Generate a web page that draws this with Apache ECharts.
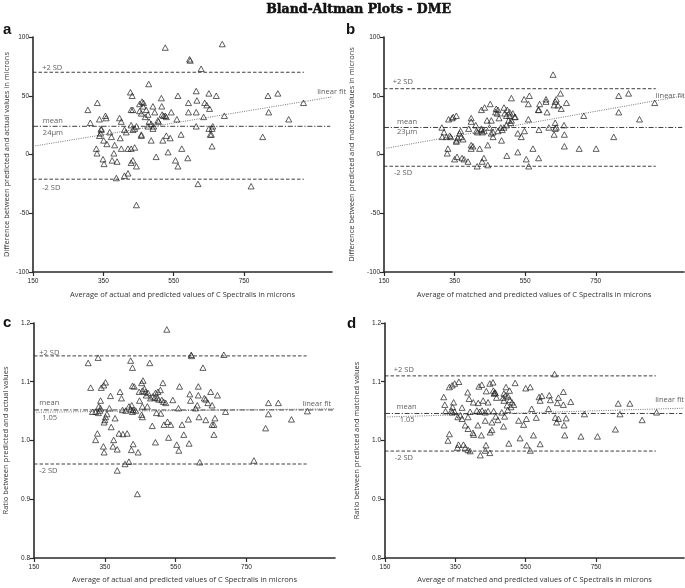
<!DOCTYPE html>
<html><head><meta charset="utf-8">
<script src="https://cdn.jsdelivr.net/npm/echarts@6/dist/echarts.min.js"></script>
<style>html,body{margin:0;padding:0;background:#fff}#c{width:685px;height:588px}</style>
</head><body><div id="c"></div>
<script>
const xTicks = [150, 350, 550, 750, 950];
const titleText = 'Bland-Altman Plots - DME';
const panelLetters = ['a', 'b', 'c', 'd'];
const xNames = [
  'Average of actual and predicted values of C Spectralis in microns',
  'Average of matched and predicted values of C Spectralis in microns',
  'Average of actual and predicted values of C Spectralis in microns',
  'Average of matched and predicted values of C Spectralis in microns'
];
const yNames = [
  'Difference between predicted and actual values in microns',
  'Difference between predicted and matched values in microns',
  'Ratio between predicted and actual values',
  'Ratio between predicted and matched values'
];

// panel a: difference (predicted - actual)
const pointsA = [
[306,38],[313,27],[333,44],[339,30],[344,21],[342,18],[339,16],[344,22],[356,33],[358,31],[351,12],[330,5],[332,1],[368,19],[373,15],[360,9],[382,8],[380,1],
[396,31],[401,28],[398,14],[401,5],[420,5],[429,5],[439,6],[410,21],[415,19],[427,53],[432,50],[429,38],[434,38],[429,25],[434,21],[439,22],[444,24],[453,37],[458,35],[463,41],[460,45],[464,44],[453,43],[472,38],[477,34],[469,32],[458,17],[458,16],[477,24],[479,60],[480,28],[486,26],[491,22],[486,12],
[491,41],[496,36],[505,29],[507,28],[493,24],[515,48],[516,41],[517,34],[521,33],[526,33],[529,32],[526,91],[519,12],[529,16],[540,14],[562,50],[559,30],[571,17],[573,5],[543,36],
[592,36],[592,44],[595,81],[597,80],[614,54],[616,46],[614,36],[635,32],[628,73],[638,44],[644,42],[650,52],[650,22],[652,39],[654,17],[659,22],[657,17],[659,7],[671,50],[694,33],[688,94],[661,24],[614,24],
[803,15],[818,50],[820,36],[846,52],[877,30],[919,44],
[349,-4],[352,-8],[375,-5],[389,-6],[434,-5],[429,-7],[444,-10],[500,-2],[534,2],[555,-5],[562,-10],[590,-3],[387,-20],[410,-18],[420,-16],[619,-25],[770,-27],[444,-43]
];
const sdA = [70, 24, -21];      // +2SD, mean, -2SD
const fitA = [7, 49];           // fit at x=150 and x=1000

// panel b: difference (predicted - matched)
const pointsB = [
[629,68],[650,52],[815,50],[843,52],[562,50],[511,48],[547,47],[559,43],[591,43],[609,47],[638,47],[635,45],[609,45],[667,44],[632,42],[643,42],[652,39],[589,38],[587,38],[612,36],
[451,43],[435,40],[426,38],[468,39],[473,38],[466,36],[471,35],[490,40],[499,38],[506,36],[506,33],[492,35],[497,33],[515,35],[520,32],[522,32],[511,29],[509,27],[503,29],[497,25],[490,23],[481,23],[485,21],[473,20],[476,31],[559,30],
[397,31],[397,28],[410,25],[426,22],[426,21],[429,19],[434,20],[412,20],[415,19],[449,23],[454,29],[442,29],[454,18],[459,15],[459,19],[483,12],[529,18],[539,15],[548,20],[589,21],[617,23],[635,27],[638,23],[635,22],[660,25],[661,17],[632,17],[661,7],[716,33],[703,5],[751,5],[801,15],[815,36],[874,30],[917,44],[572,5],[529,2],[444,8],[397,8],[397,5],[402,7],[421,5],[374,13],[355,11],
[314,23],[320,19],[315,15],[327,15],[336,16],[339,15],[333,30],[343,31],[355,33],[346,32],[364,18],[367,20],[359,14],[355,12],[369,15],[331,5],[329,1],[390,22],
[350,-4],[357,-2],[371,-3],[377,-4],[388,-6],[414,-10],[428,-6],[433,-3],[444,-9],[498,-1],[553,-4],[560,-10],[588,-3]
];
const sdB = [56, 23, -10];
const fitB = [5, 50];

// panel c: ratio (predicted / actual)
const pointsC = [
[525,1.189],[686,1.146],[594,1.146],[595,1.144],[331,1.141],[303,1.132],[423,1.136],[477,1.132],[428,1.124],[627,1.124],
[310,1.090],[340,1.090],[347,1.094],[352,1.099],[428,1.093],[433,1.092],[458,1.102],[454,1.098],[514,1.098],[561,1.092],[614,1.092],
[366,1.076],[338,1.068],[393,1.083],[397,1.072],[447,1.083],[456,1.085],[462,1.088],[465,1.083],[467,1.077],[472,1.081],[493,1.081],[500,1.083],[507,1.086],[479,1.072],[485,1.075],[491,1.073],[498,1.072],[502,1.070],[511,1.069],[516,1.066],[522,1.064],[542,1.069],[590,1.079],[592,1.068],[614,1.077],[631,1.072],[635,1.070],[649,1.083],[668,1.077],[641,1.064],[653,1.060],[611,1.060],[606,1.055],[558,1.055],[691,1.049],
[448,1.068],[456,1.058],[470,1.058],[426,1.060],[418,1.058],[423,1.053],[400,1.052],[409,1.051],[430,1.052],[437,1.051],[333,1.058],[338,1.055],[336,1.051],[332,1.047],[324,1.049],[315,1.049],[363,1.055],[356,1.045],[352,1.040],[379,1.038],[350,1.035],[348,1.031],[368,1.023],[329,1.012],[324,1.001],[390,1.012],[401,1.011],[413,1.012],[375,1.001],[428,1.049],[454,1.044],[456,1.040],[484,1.025],[496,1.047],[508,1.046],[517,1.027],[527,1.032],[536,1.027],[530,1.005],[493,0.997],[568,1.027],[573,1.010],[586,1.036],[616,1.040],[635,1.035],[661,1.038],[658,1.027],[653,1.027],[658,1.010],
[812,1.064],[840,1.064],[812,1.045],[877,1.036],[804,1.021],[922,1.050],
[346,0.990],[348,0.980],[373,0.990],[385,0.985],[430,0.994],[425,0.984],[444,0.980],[553,0.993],[559,0.983],[588,0.995],[407,0.960],[418,0.964],[385,0.949],[618,0.963],[771,0.966],[442,0.909]
];
const sdC = [1.144, 1.052, 0.960];
const fitC = [1.048, 1.054];

// panel d: ratio (predicted / matched)
const pointsD = [
[632,1.113],[813,1.063],[846,1.063],[818,1.045],[881,1.035],[922,1.048],[805,1.019],[717,1.045],[707,1.007],[754,1.007],
[657,1.083],[520,1.098],[550,1.089],[563,1.091],[596,1.076],[617,1.077],[588,1.074],[591,1.068],[620,1.069],[643,1.073],[657,1.061],[678,1.066],[640,1.064],[615,1.054],[567,1.054],[634,1.039],[643,1.037],[665,1.038],[638,1.031],[659,1.026],[661,1.009],
[580,1.039],[552,1.037],[530,1.034],[544,1.027],[572,1.009],[534,1.004],
[457,1.099],[448,1.097],[425,1.095],[417,1.092],[438,1.084],[458,1.085],[462,1.082],[460,1.080],[464,1.081],[494,1.091],[504,1.085],[488,1.080],[493,1.077],[500,1.075],[486,1.073],[488,1.068],[505,1.069],[511,1.065],[516,1.061],[497,1.060],[467,1.073],[443,1.065],[429,1.068],[415,1.064],[401,1.065],[389,1.071],[385,1.082],
[369,1.056],[345,1.065],[342,1.057],[339,1.051],[341,1.048],[348,1.049],[322,1.050],[320,1.061],[317,1.074],[333,1.091],[341,1.094],[360,1.100],[348,1.097],
[364,1.043],[357,1.040],[369,1.037],[386,1.040],[392,1.049],[411,1.051],[419,1.049],[426,1.051],[435,1.048],[443,1.050],[459,1.050],[465,1.041],[471,1.035],[482,1.048],[490,1.041],[499,1.052],[508,1.057],
[454,1.031],[487,1.024],[435,1.034],[414,1.026],[378,1.026],[386,1.020],[400,1.013],[402,1.010],[424,1.009],[449,1.014],[454,1.018],[333,1.011],[329,1.000],
[359,0.993],[373,0.993],[356,0.988],[378,0.988],[386,0.984],[392,0.982],[421,0.975],[435,0.983],[437,0.992],[448,0.979],[502,0.995],[553,0.992],[563,0.983],[591,0.994]
];
const sdD = [1.110, 1.046, 0.982];
const fitD = [1.040, 1.055];

// annotation texts [x, y, text] in data units
const notesA = [[176,74,'+2 SD'],[178,29,'mean'],[178,18.5,'24\u03bcm'],[176,-28,'-2 SD'],[958,53,'linear fit']];
const notesB = [[175,61.5,'+2 SD'],[187,28,'mean'],[187,19,'23\u03bcm'],[178,-16,'-2 SD'],[920,50,'linear fit']];
const notesC = [[165,1.150,'+2 SD'],[165,1.064,'mean'],[173,1.038,'1.05'],[165,0.948,'-2 SD'],[908,1.062,'linear fit']];
const notesD = [[175,1.121,'+2 SD'],[183,1.057,'mean'],[192,1.035,'1.05'],[178,0.971,'-2 SD'],[918,1.069,'linear fit']];

const grids = [
  {left: 33, top: 37, width: 299, height: 235},
  {left: 384, top: 37, width: 300, height: 235},
  {left: 34, top: 323, width: 301, height: 235},
  {left: 385, top: 323, width: 299, height: 235}
];
const yNameGaps = [22, 28, 24, 24];
const SD_END = 920, MEAN_END = 995, FIT_END = 1000;

const tickFont = "'Liberation Sans Narrow','Liberation Sans',sans-serif";
const textFont = "'Open Sans','Noto Sans',sans-serif";
const ink = '#2a2a2a';

const panels = [
  {pts: pointsA, sd: sdA, fit: fitA, notes: notesA, ratio: false},
  {pts: pointsB, sd: sdB, fit: fitB, notes: notesB, ratio: false},
  {pts: pointsC, sd: sdC, fit: fitC, notes: notesC, ratio: true},
  {pts: pointsD, sd: sdD, fit: fitD, notes: notesD, ratio: true}
];

const xAxis = [], yAxis = [], series = [];
panels.forEach((p, i) => {
  xAxis.push({
    gridIndex: i, type: 'value', min: 150, max: 1000, interval: 200,
    axisLine: {onZero: false, lineStyle: {color: ink, width: 1.6}},
    axisTick: {customValues: xTicks, length: 4, lineStyle: {color: ink, width: 1.2}},
    axisLabel: {customValues: xTicks, showMaxLabel: false, fontSize: 6.5, color: '#222', margin: 6, fontFamily: tickFont},
    splitLine: {show: false},
    name: xNames[i], nameLocation: 'middle', nameGap: i < 2 ? 19 : 18,
    nameTextStyle: {fontSize: 7.5, color: '#333', fontFamily: textFont}
  });
  yAxis.push({
    gridIndex: i, type: 'value',
    min: p.ratio ? 0.8 : -100, max: p.ratio ? 1.2 : 100, interval: p.ratio ? 0.1 : 50,
    axisLine: {show: true, onZero: false, lineStyle: {color: ink, width: 1.6}},
    axisTick: {show: true, length: 4, lineStyle: {color: ink, width: 1.2}},
    axisLabel: {fontSize: 6.5, color: '#222', margin: 4, fontFamily: tickFont,
      formatter: p.ratio ? (v => v.toFixed(1)) : (v => String(v))},
    splitLine: {show: false},
    name: yNames[i], nameLocation: 'middle', nameGap: yNameGaps[i], nameRotate: 90,
    nameTextStyle: {fontSize: 7.5, color: '#333', fontFamily: textFont}
  });
  const common = {xAxisIndex: i, yAxisIndex: i};
  series.push(Object.assign({
    type: 'scatter', symbol: 'triangle', symbolSize: [6, 5.5],
    itemStyle: {color: 'rgba(255,255,255,0)', borderColor: '#222', borderWidth: 0.9},
    data: p.pts, z: 3
  }, common));
  const lineBase = {type: 'line', symbol: 'none', silent: true, animation: false};
  series.push(Object.assign({}, lineBase, common, {
    data: [[150, p.sd[0]], [SD_END, p.sd[0]]], lineStyle: {color: ink, width: 0.9, type: [3.5, 2]}}));
  series.push(Object.assign({}, lineBase, common, {
    data: [[150, p.sd[2]], [SD_END, p.sd[2]]], lineStyle: {color: ink, width: 0.9, type: [3.5, 2]}}));
  series.push(Object.assign({}, lineBase, common, {
    data: [[150, p.sd[1]], [MEAN_END, p.sd[1]]], lineStyle: {color: ink, width: 0.9, type: [5, 1.8, 1.2, 1.8]}}));
  series.push(Object.assign({}, lineBase, common, {
    data: [[150, p.fit[0]], [FIT_END, p.fit[1]]], lineStyle: {color: '#666', width: 0.9, type: [1, 1.3]}}));
  series.push(Object.assign({
    type: 'scatter', symbolSize: 1, silent: true,
    itemStyle: {color: 'rgba(0,0,0,0)'},
    label: {show: true, position: 'inside', align: 'left', verticalAlign: 'middle',
      formatter: q => q.data.value[2], fontSize: 7.5, color: '#333', fontFamily: textFont},
    data: p.notes.map(n => ({value: n})), z: 5
  }, common));
});

const letterPos = [[3, 30], [346, 30], [3, 323], [347, 324]];
const graphic = [{
  type: 'text', left: 266, top: 3,
  style: {text: titleText, fill: '#111', stroke: '#111', lineWidth: 0.5,
    font: "bold 12.5px 'DejaVu Serif', serif"}
}].concat(panelLetters.map((l, i) => ({
  type: 'text', x: letterPos[i][0], y: letterPos[i][1],
  style: {text: l, fill: '#111', font: "bold 15px 'Liberation Sans', Arial, sans-serif", verticalAlign: 'middle'}
})));

const chart = echarts.init(document.getElementById('c'), null, {renderer: 'canvas'});
chart.setOption({
  animation: false,
  backgroundColor: '#fff',
  grid: grids,
  xAxis: xAxis,
  yAxis: yAxis,
  series: series,
  graphic: graphic
});
</script>
</body></html>
